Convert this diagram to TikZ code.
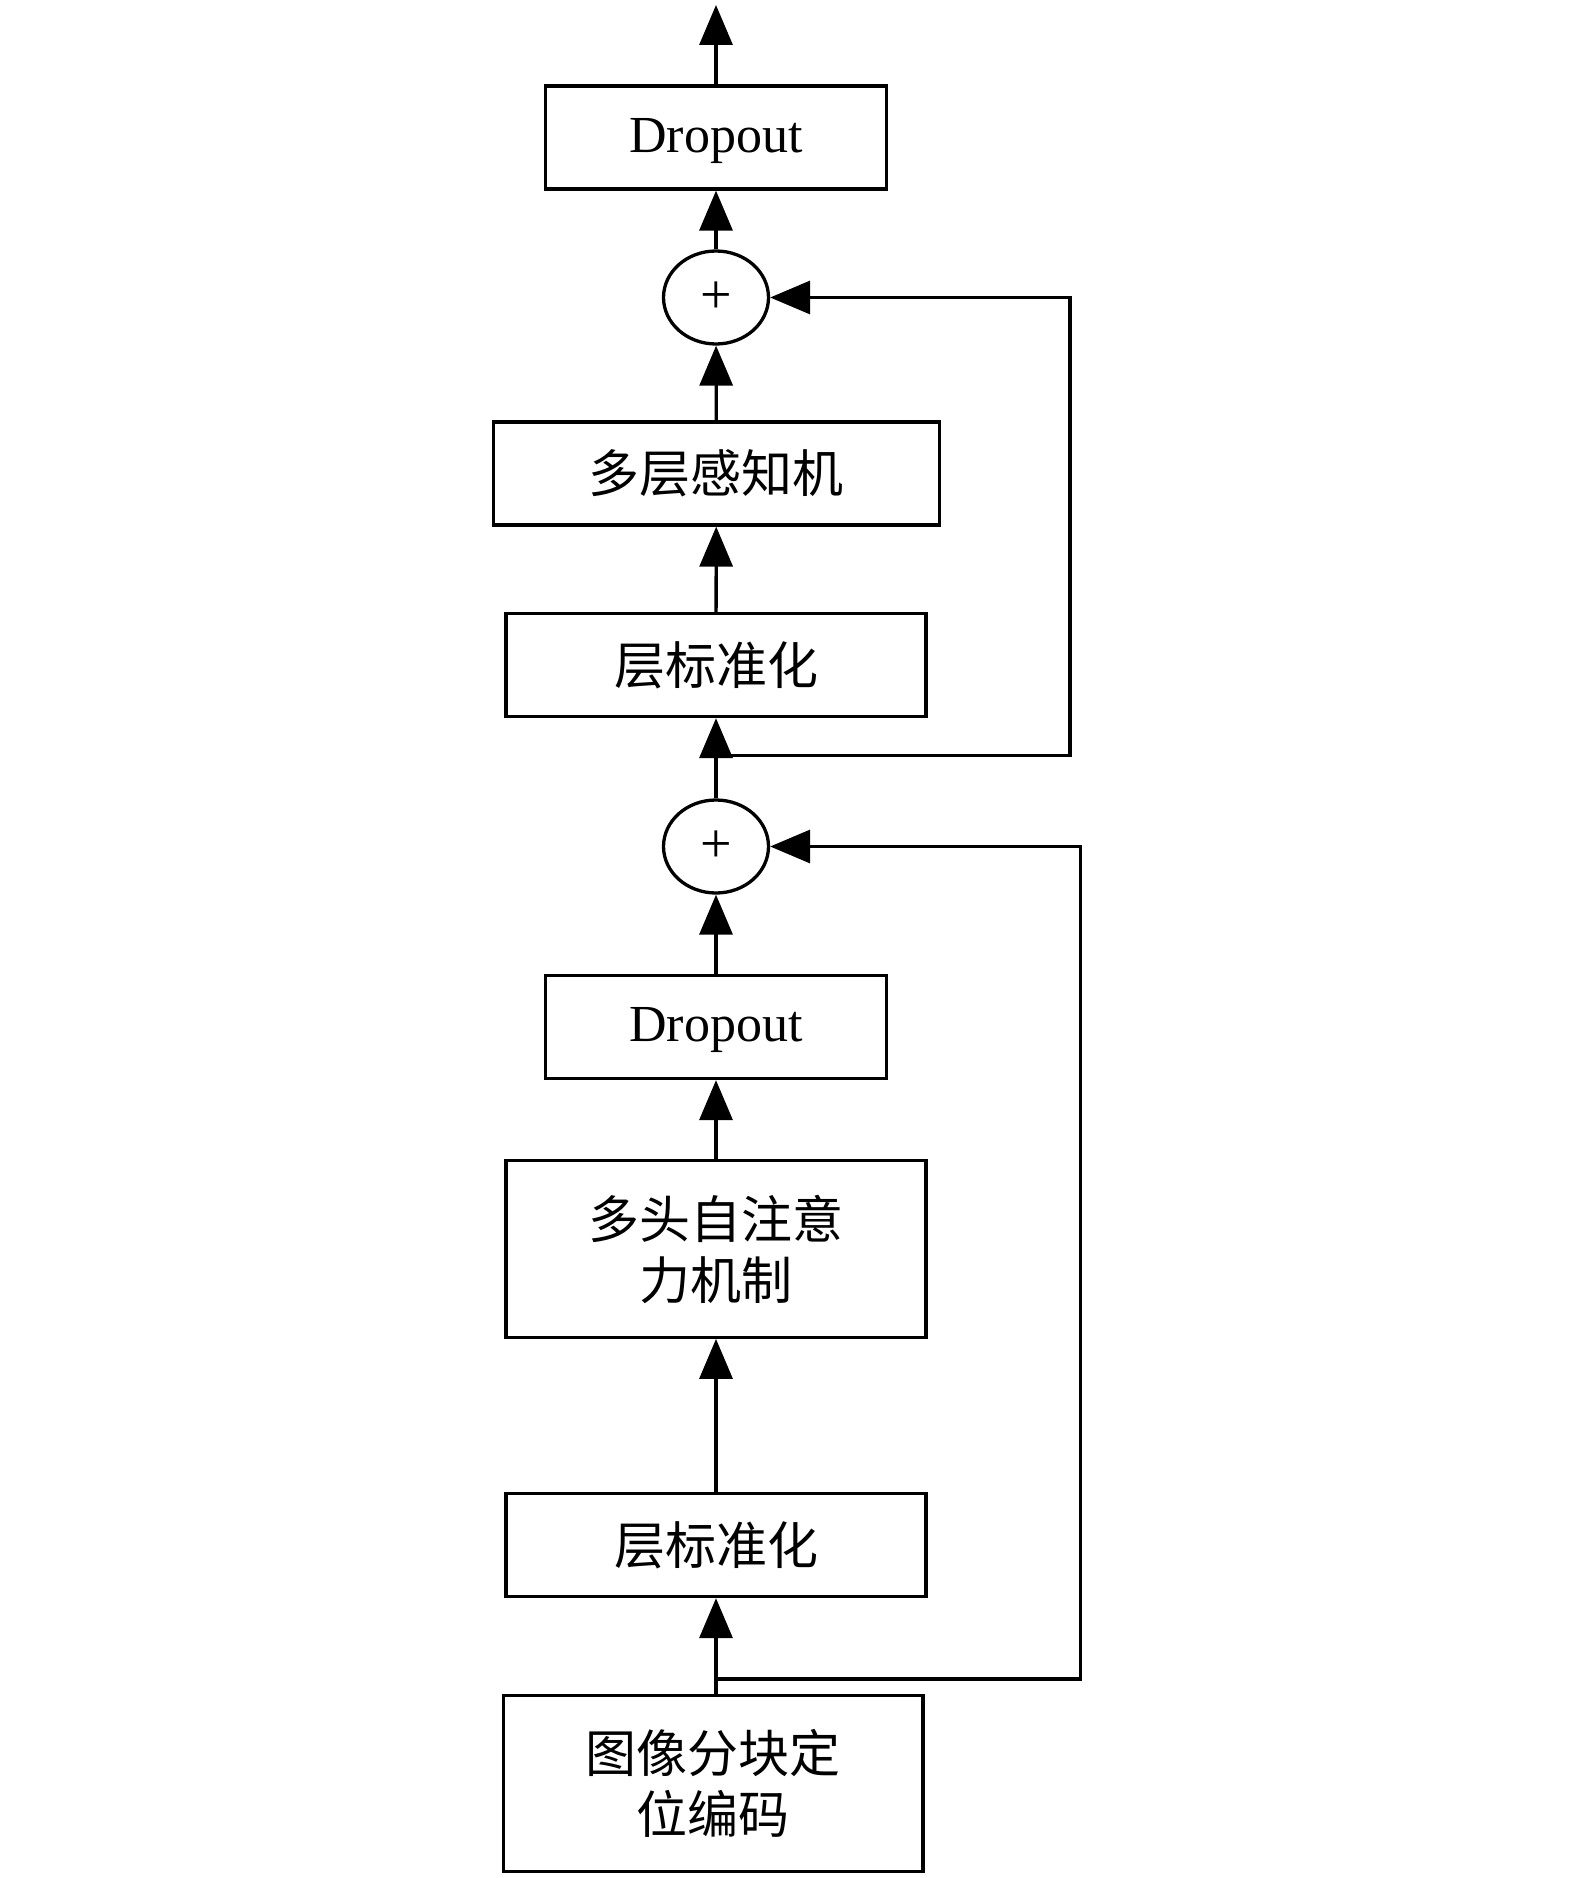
\documentclass[tikz,border=0pt]{standalone}
\usepackage{fontspec}
\setmainfont{Liberation Serif}
\newfontfamily\cjk{Noto Sans CJK SC}
\usetikzlibrary{arrows.meta,shapes.geometric}
\begin{document}
\begin{tikzpicture}[x=1pt,y=-1pt,
  every node/.style={inner sep=0pt},
  box/.style={draw, line width=3.3pt, rectangle, minimum height=103pt, align=center},
  lat/.style={font=\fontsize{52}{60}\selectfont, text depth=5pt},
  zh/.style={font=\cjk\fontsize{51}{61}\selectfont},
  sumnode/.style={draw, line width=3.3pt, ellipse, minimum width=105pt, minimum height=93pt, font=\fontsize{56}{56}\selectfont},
  arr/.style={line width=3.3pt, -{Triangle[length=40pt,width=33pt]}}]
\path[use as bounding box] (0,0) rectangle (1575,1878);

\node[box, lat, minimum width=341pt] (drop1) at (716,137.5) {Dropout};
\node[sumnode] (add1) at (716,297.5) {+};
\node[box, zh, minimum width=446pt] (mlp) at (716.3,473.5) {多层感知机};
\node[box, zh, minimum width=420pt] (ln1) at (716,665) {层标准化};
\node[sumnode] (add2) at (716,846.5) {+};
\node[box, lat, minimum width=341pt] (drop2) at (716,1027) {Dropout};
\node[box, zh, minimum width=420pt, minimum height=176.5pt] (mhsa) at (716,1249) {多头自注意\\力机制};
\node[box, zh, minimum width=420pt] (ln2) at (716,1545) {层标准化};
\node[box, zh, minimum width=419.5pt, minimum height=176pt] (patch) at (713.3,1783.7) {图像分块定\\位编码};

\coordinate (out) at (716,5);
\coordinate (b1) at (716,755.5);
\coordinate (b2) at (716,1679);

\draw[arr] (drop1.north) -- (out);
\draw[arr] (add1) -- (drop1);
\draw[arr] (mlp) -- (add1);
\draw[arr] (ln1) -- (mlp);
\draw[arr] (add2) -- (ln1);
\draw[arr] (drop2) -- (add2);
\draw[arr] (mhsa) -- (drop2);
\draw[arr] (ln2) -- (mhsa);
\draw[arr] (ln2.south |- patch.north) -- (ln2.south);

\draw[arr] (b1) -- ++(354,0) |- (add1.east);
\draw[arr] (b2) -- ++(364.5,0) |- (add2.east);
\end{tikzpicture}
\end{document}
